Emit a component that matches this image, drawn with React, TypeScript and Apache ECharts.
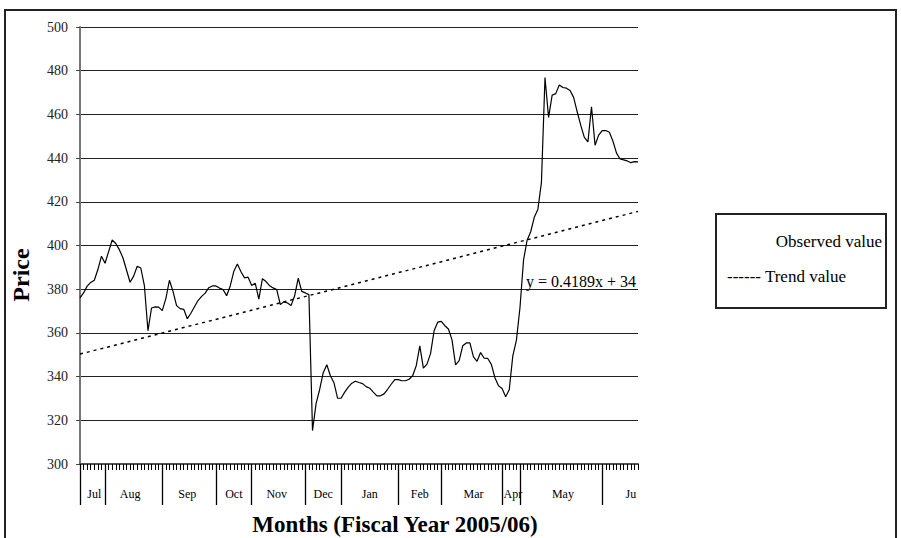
import React, { useEffect, useRef } from "react";
import * as echarts from "echarts";

// Daily observed prices, fiscal year 2005/06
const price: number[] = [
  376, 378.3, 381.4, 383.1, 384.1, 389, 395.1, 391.9, 397.2, 402.5,
  400.9, 398.1, 394.4, 388.8, 383.2, 386, 390.5, 389.7, 381.6, 361,
  371.4, 371.9, 371.8, 370.2, 375.7, 384.1, 379, 372.5, 371.1, 370.8,
  366.5, 369, 372, 374.8, 376.7, 378.2, 380.7, 381.5, 381.5, 380.5,
  379.8, 377, 381.5, 388.2, 391.5, 388, 385.2, 385.5, 381.7, 382.7,
  375.5, 384.8, 383.5, 381.6, 380.6, 379.8, 373, 374.2, 373.7, 372.5,
  377, 385, 379, 378.3, 377.5, 315.3, 327.6, 334.1, 341.8, 345.4,
  340.4, 337.2, 330.1, 330.1, 332.9, 335.2, 337, 337.9, 337.3, 336.8,
  335.4, 334.7, 332.9, 331.2, 331.2, 332.1, 334.2, 336.5, 338.6, 338.6,
  338.1, 338.1, 338.8, 340.4, 345, 354.1, 343.9, 345.7, 350.5, 361,
  364.9, 365.3, 363.3, 361.8, 356.8, 345.4, 347.3, 354.1, 355.4, 355.4,
  349, 347, 351, 348.4, 348.3, 345.6, 339.5, 335.8, 334.6, 330.8,
  334, 349.5, 356.6, 371.5, 393.4, 402.4, 406.3, 412.9, 416.5, 428.8,
  476.9, 458.6, 468.8, 469.5, 473.5, 472.3, 472, 470.9, 467.8, 461.2,
  455, 449.5, 447.4, 463.5, 445.9, 450.5, 452.6, 452.6, 451.8, 447.7,
  442.3, 439.6, 439.2, 438.7, 437.9, 438.4, 438.3,
];

const dayIndex: string[] = price.map((_, i) => String(i + 1));

const monthNames = ["Jul", "Aug", "Sep", "Oct", "Nov", "Dec", "Jan", "Feb", "Mar", "Apr", "May", "Ju"];
const monthLabelIndex = [4, 14, 30, 43, 55, 68, 81, 95, 110, 121, 135, 154];
const monthBoundaryIndex = [0, 7, 23, 38, 48, 63, 73, 89, 101, 118, 123, 146];

const yMin = 300;
const yMax = 500;
const yStep = 20;

// Linear trend end values
const trendStart = 350.3;
const trendEnd = 415.6;
const trendEquation = "y = 0.4189x + 34";

const legendItems = ["Observed value", "------ Trend value"];
const yTitle = "Price";
const xTitle = "Months (Fiscal Year 2005/06)";

const FONT = "'Liberation Serif', 'Times New Roman', serif";

export default function App() {
  const ref = useRef<HTMLDivElement>(null);

  useEffect(() => {
    if (!ref.current) return;
    const chart = echarts.init(ref.current, undefined, { renderer: "svg" });
    const option: any = {
      animation: false,
      backgroundColor: "#fff",
      grid: { left: 80, top: 27, width: 558, height: 437, containLabel: false },
      xAxis: [
        {
          type: "category",
          data: dayIndex,
          boundaryGap: false,
          position: "bottom",
          axisLine: { show: true, onZero: false, lineStyle: { color: "#555", width: 2 } },
          axisTick: { show: true, interval: 0, length: 6, lineStyle: { color: "#000", width: 1 } },
          axisLabel: { show: false },
          splitLine: { show: false },
        },
        {
          type: "category",
          data: dayIndex,
          boundaryGap: false,
          position: "bottom",
          axisLine: { show: false, onZero: false },
          axisTick: {
            show: true,
            interval: (i: number) => monthBoundaryIndex.includes(i),
            length: 41,
            lineStyle: { color: "#000", width: 1.3 },
          },
          axisLabel: {
            show: true,
            interval: (i: number) => monthLabelIndex.includes(i),
            formatter: (_v: string, i: number) => {
              const k = monthLabelIndex.indexOf(i);
              return k >= 0 ? monthNames[k] : "";
            },
            margin: 24,
            fontSize: 12,
            fontFamily: FONT,
            color: "#000",
          },
          splitLine: { show: false },
        },
      ],
      yAxis: {
        type: "value",
        min: yMin,
        max: yMax,
        interval: yStep,
        axisLine: { show: true, lineStyle: { color: "#777", width: 2 } },
        axisTick: { show: true, length: 4, lineStyle: { color: "#444" } },
        axisLabel: { fontSize: 14, fontFamily: FONT, color: "#222", margin: 12 },
        splitLine: { show: true, lineStyle: { color: "#222", width: 1 } },
      },
      series: [
        {
          name: "Observed value",
          type: "line",
          xAxisIndex: 0,
          data: price,
          showSymbol: false,
          symbol: "none",
          lineStyle: { color: "#000", width: 1.2 },
          markLine: {
            silent: true,
            symbol: ["none", "none"],
            label: { show: false },
            lineStyle: { color: "#000", type: [3, 4], width: 1.5 },
            data: [
              [
                { coord: [dayIndex[0], trendStart] },
                { coord: [dayIndex[dayIndex.length - 1], trendEnd] },
              ],
            ],
          },
        },
      ],
      graphic: [
        {
          type: "rect",
          shape: { x: 5, y: 10, width: 891, height: 560 },
          style: { fill: "none", stroke: "#222", lineWidth: 2 },
          silent: true,
        },
        {
          type: "rect",
          shape: { x: 716, y: 214, width: 170, height: 94 },
          style: { fill: "#fff", stroke: "#222", lineWidth: 2 },
          silent: true,
        },
        {
          type: "text",
          x: 882,
          y: 241,
          style: {
            text: legendItems[0],
            align: "right",
            verticalAlign: "middle",
            font: `17px ${FONT}`,
            fill: "#000",
          },
        },
        {
          type: "text",
          x: 727,
          y: 276,
          style: {
            text: legendItems[1],
            align: "left",
            verticalAlign: "middle",
            font: `17px ${FONT}`,
            fill: "#000",
          },
        },
        {
          type: "text",
          x: 526,
          y: 281,
          style: {
            text: trendEquation,
            align: "left",
            verticalAlign: "middle",
            font: `16px ${FONT}`,
            fill: "#000",
          },
        },
        {
          type: "text",
          x: 21,
          y: 275,
          rotation: Math.PI / 2,
          style: {
            text: yTitle,
            align: "center",
            verticalAlign: "middle",
            font: `bold 24px ${FONT}`,
            fill: "#000",
          },
        },
        {
          type: "text",
          x: 395,
          y: 524,
          style: {
            text: xTitle,
            align: "center",
            verticalAlign: "middle",
            font: `bold 23px ${FONT}`,
            fill: "#000",
          },
        },
      ],
    };
    chart.setOption(option);
    return () => chart.dispose();
  }, []);

  return (
    <div
      ref={ref}
      style={{ position: "fixed", left: 0, top: 0, width: 901, height: 538, background: "#fff" }}
    />
  );
}
